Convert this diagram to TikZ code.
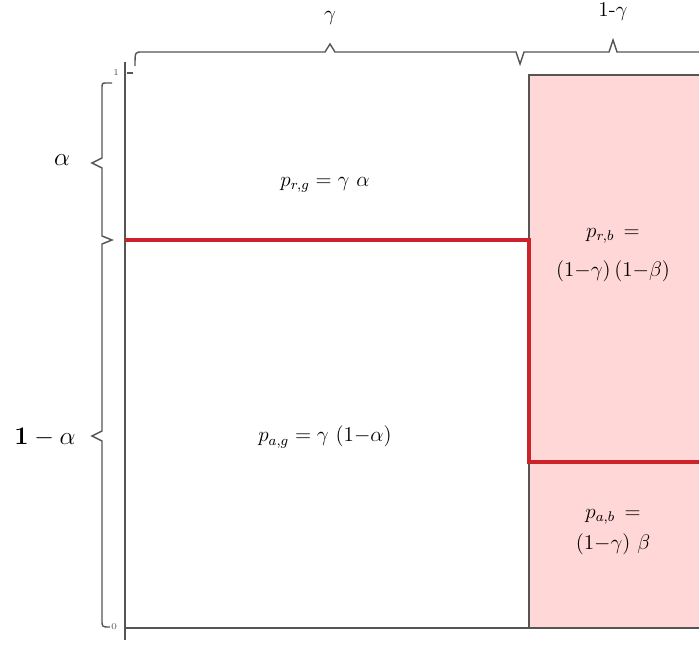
\documentclass[tikz,border=0pt]{standalone}
\usepackage{tikz}
\usetikzlibrary{calc}
\usepackage{amsmath}
\definecolor{cellpink}{HTML}{FFD7D7}
\definecolor{splitred}{HTML}{CC2229}
\definecolor{axisgray}{HTML}{555555}

\begin{document}
\begin{tikzpicture}[x=0.02cm, y=-0.02cm,
  axis/.style={draw=axisgray, line width=1.2pt},
  brace/.style={draw=axisgray, line width=0.8pt},
  split/.style={draw=splitred, line width=1.8pt},
  prob/.style={font=\large, align=center},
  share/.style={font=\Large},
  tick/.style={font=\tiny, text=axisgray, inner sep=0.5pt}
]
\useasboundingbox (0,0) rectangle (699,652);

% cells
\fill[cellpink] (529,75) rectangle (699,628);
\draw[axis] (699,75) -- (529,75) -- (529,628);
\draw[axis] (125,62) -- (125,640);
\draw[axis] (125,628) -- (699,628);
\draw[split] (125,240) -- (529,240) -- (529,462) -- (699,462);

% axis ticks
\node[tick] (one) at (116,73) {1};
\node[tick] (zero) at (114,627) {0};
\draw[brace] (127,73) -- (133,73);

% top braces
\draw[brace] (135,66) .. controls (135,52) .. (142,52) -- (325,52) -- (330,44) -- (335,52)
  -- (516,52) -- (520,64) -- (524,52) -- (609,52) -- (613,40) -- (617,52) -- (699,52);
\node[font=\large] (gamma) at (330,18) {$\gamma$};
\node[font=\large] (notgamma) at (613,12) {$1\text{-}\gamma$};

% left braces
\draw[brace] (112,83) -- (106,83) .. controls (102,83) .. (102,90) -- (102,158) -- (92,163)
  -- (102,168) -- (102,236) -- (112,240) -- (102,244) -- (102,431) -- (92,436) -- (102,441)
  -- (102,620) .. controls (102,627) .. (110,627);
\node[share] (alpha) at (62,160) {$\alpha$};
\node[share] (notalpha) at (45,437) {$\mathbf{1}-\alpha$};

% probabilities
\node[prob] (prg) at (325,185) {$p_{r,g} = \gamma\ \alpha$};
\node[prob] (pag) at (325,437) {$p_{a,g} = \gamma\ (1{-}\alpha)$};
\node[prob] (prb) at (613,255) {$p_{r,b}\, =$\\[8pt] $(1{-}\gamma)\,(1{-}\beta)$};
\node[prob] (pab) at (613,532) {$p_{a,b}\, =$\\[4pt] $(1{-}\gamma)\ \beta$};
\end{tikzpicture}
\end{document}
